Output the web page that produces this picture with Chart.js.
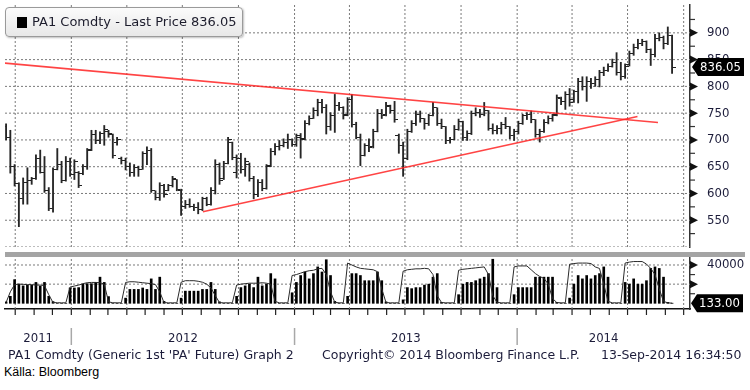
<!DOCTYPE html>
<html>
<head>
<meta charset="utf-8">
<script src="https://cdn.jsdelivr.net/npm/chart.js@4.4.1/dist/chart.umd.min.js"></script>
<style>
  html,body{margin:0;padding:0;background:#fff;}
  body{width:750px;height:390px;position:relative;overflow:hidden;}
  canvas{position:absolute;left:0;}
  #pricePanel{top:0;}
  #volumePanel{top:250px;}
  .sep{position:absolute;left:5px;top:252px;width:740px;height:5px;background:#a4a4a4;}
  .legend{position:absolute;left:5px;top:7px;width:236px;height:28px;border:1px solid #9a9a9a;border-radius:4px;background:linear-gradient(#fbfbfb,#e8e8e8);box-shadow:1px 1px 2px rgba(0,0,0,.25);font:13px 'DejaVu Sans',sans-serif;color:#1c1c2c;}
  .legend .sq{position:absolute;left:11px;top:9px;width:10px;height:11px;background:#000;}
  .legend .txt{position:absolute;left:26px;top:6px;white-space:nowrap;}
  .foot{position:absolute;top:347px;font:12.5px 'DejaVu Sans',sans-serif;color:#1c1c3a;white-space:nowrap;}
  .src{position:absolute;left:4px;top:365px;font:12.5px 'Liberation Sans',Arial,sans-serif;color:#000;}
</style>
</head>
<body>
<canvas id="pricePanel" width="750" height="252"></canvas>
<canvas id="volumePanel" width="750" height="100"></canvas>
<div class="sep"></div>
<div class="legend"><div class="sq"></div><div class="txt" id="legendText"></div></div>
<div class="foot" style="left:8px">PA1 Comdty (Generic 1st 'PA' Future) Graph 2</div>
<div class="foot" style="left:322px">Copyright© 2014 Bloomberg Finance L.P.</div>
<div class="foot" style="left:601px">13-Sep-2014 16:34:50</div>
<div class="src">Källa: Bloomberg</div>
<script>
// ---------------- DATA ----------------
const weekStart = '2011-09-16';   // date of the first weekly bar
const legendTitle = 'PA1 Comdty - Last Price';
const yearLabels = ['2011', '2012', '2013', '2014'];
const priceTickValues = [550, 600, 650, 700, 750, 800, 850, 900];
const volumeTickValues = [40000];

const highs = [
  730,718,654,620,629,648,630,672,681,669, 611,648,684,660,669,666,663,641,654,684,
  718,718,715,727,718,711,705,668,666,657, 654,651,678,687,684,605,620,617,617,632,
  626,608,587,590,580,583,593,593,611,663, 657,660,705,696,672,675,666,657,632,626,
  626,654,684,693,699,702,711,702,711,712, 736,745,760,776,776,766,751,785,770,762,
  779,785,733,711,693,702,720,757,757,770, 765,772,711,696,720,736,754,754,740,748,
  770,760,739,725,705,727,739,735,717,754, 760,757,770,755,730,727,733,742,725,720,
  735,748,751,754,738,720,738,745,748,784, 780,790,796,793,815,818,818,815,818,830,
  836,842,851,863,845,842,866,879,888,888, 885,870,897,900,894,911,896
];
const lows = [
  700,638,614,538,580,580,617,626,638,602, 568,565,644,620,623,632,626,611,635,645,
  680,693,693,690,705,666,690,655,644,632, 632,632,645,654,602,588,587,593,605,612,
  605,559,572,574,568,562,568,577,578,599, 617,626,655,663,629,638,632,623,590,594,
  605,608,650,672,681,687,684,688,688,666, 700,728,740,745,751,711,718,714,755,739,
  745,724,702,652,670,678,685,715,740,745, 750,733,675,632,663,714,727,733,720,727,
  745,727,721,693,694,700,718,699,699,710, 745,742,745,718,711,711,711,721,702,699,
  711,729,738,732,705,696,714,730,735,745, 766,757,763,770,769,793,772,796,800,799,
  820,828,836,821,812,815,838,858,870,876, 863,839,855,885,870,878,824
];
const opens = [
  725,705,650,618,590,620,625,628,665,640, 605,572,645,655,625,660,635,640,638,650,
  682,710,698,712,716,710,695,665,662,650, 640,648,645,675,680,605,592,615,606,615,
  626,605,575,580,576,574,570,590,580,605, 655,628,656,696,640,665,645,655,628,598,
  620,610,652,678,688,690,695,700,692,705, 702,730,740,755,770,760,725,745,765,760,
  748,775,728,705,670,690,688,715,750,748, 762,755,708,690,665,715,730,748,740,730,
  745,760,730,725,698,700,720,735,705,712, 750,752,748,755,722,718,722,728,725,708,
  715,730,745,748,738,710,715,732,740,748, 778,772,785,775,790,810,800,810,805,812,
  825,830,838,845,825,818,840,862,872,880, 884,868,860,890,892,880,895
];
const closes = [
  705,650,618,590,620,625,628,665,640,605, 572,645,655,625,660,635,660,615,650,680,
  710,698,712,720,712,670,700,662,650,640, 648,645,675,680,605,592,615,598,615,628,
  608,575,580,576,574,570,590,580,605,655, 625,656,700,668,665,645,660,628,598,620,
  610,650,678,688,690,695,700,692,708,700, 730,740,755,770,760,725,745,765,760,745,
  775,728,705,670,690,685,715,750,745,765, 755,738,690,665,715,730,748,740,730,745,
  760,730,725,698,700,720,735,705,712,750, 752,748,755,722,718,722,728,725,708,715,
  730,745,748,738,710,715,732,740,745,780, 772,785,770,790,810,800,810,805,812,825,
  830,838,845,825,818,838,862,872,880,884, 868,860,890,892,880,895,836.05
];
const volumes = [
  1500,7300,24700,20000,18200,19000,19000,21800,18000,21800, 7300,1800,0,0,0,16000,16000,16400,20000,20500,
  20500,21800,27300,21800,7000,0,0,0,5400,14500, 14500,14500,16000,14500,25500,14500,27300,2000,0,0,
  0,5400,12700,12700,12700,12700,14500,14500,21800,14500, 1500,0,0,0,7300,16400,18200,20000,16400,27300,
  18200,20000,31000,25500,0,0,0,11000,21800,29000, 32700,25500,31000,38000,32700,45500,29000,2000,0,0,
  7300,31000,31000,29000,23600,23600,23600,32700,23600,1500, 0,0,0,3600,16400,15300,16400,16400,19000,20000,
  27300,31000,1000,0,0,0,9000,20000,21800,21800, 23600,25500,27300,31000,46000,16400,0,0,0,9000,
  16400,16400,16400,16400,27300,27300,27300,27300,27300,1000, 0,0,5400,20000,29000,25500,29000,25500,29000,31000,
  38000,27300,0,0,0,21800,20000,25500,20000,20000, 23600,36400,38000,36400,27300,1000,133
];
const openInterest = [
  800,12000,19500,20000,19800,19500,19500,19000,19000,18500, 9000,800,600,500,500,17000,18000,19000,20500,21500,
  21800,21800,21500,20000,1500,600,500,500,21800,22500, 22500,22000,21500,21000,20500,19500,12000,700,500,500,
  500,22000,23600,23600,23600,23000,22000,20000,16000,8000, 700,500,500,500,19000,20000,20500,21000,21000,21000,
  21500,21000,20000,2000,500,500,500,29000,30000,31500, 33000,34000,34500,36000,36500,30000,12000,1000,500,500,
  42000,40000,38000,36500,36000,35500,35000,33000,15000,800, 500,500,500,33500,35000,35500,36000,36000,36500,36000,
  30000,8000,800,500,500,500,34500,35500,36000,36500, 37000,37500,38000,30000,8000,1000,500,500,500,38000,
  39000,39000,39000,35000,31000,28000,26000,20000,5000,800, 500,500,40800,41500,42000,42000,42000,41500,38000,36400,
  20000,2000,500,500,500,42000,43000,43600,43600,43600, 41000,36400,30000,15000,2000,500,133
];
// trend lines: [week index, price]
const upperTrend = [[-0.3, 843.5], [152.7, 732.4]];
const lowerTrend = [[46.1, 565.9], [147.9, 743.9]];

// ---------------- HELPERS ----------------
const DAY = 864e5;
const weekOf = d => (Date.parse(d + 'T00:00:00Z') - Date.parse(weekStart + 'T00:00:00Z')) / (7 * DAY);
const X_MIN = -0.25, X_MAX = 160.2;
const P_MIN = 500, P_MAX = 952, V_MIN = -5950, V_MAX = 47300;
const quarterWeeks = [], monthWeeks = [];
for (let y = 2011; y <= 2014; y++) {
  for (let m = 1; m <= 12; m++) {
    const w = weekOf(`${y}-${String(m).padStart(2, '0')}-01`);
    if (w < X_MIN || w > X_MAX) continue;
    monthWeeks.push(w);
    if ((m - 1) % 3 === 0) quarterWeeks.push(w);
  }
}
const yearMid = yearLabels.map(y => {
  const a = Math.max(X_MIN, weekOf(`${y}-01-01`));
  const b = Math.min(X_MAX, weekOf(`${+y + 1}-01-01`));
  return (a + b) / 2;
});
const yearBounds = yearLabels.slice(1).map(y => weekOf(`${y}-01-01`));

document.getElementById('legendText').textContent =
  `${legendTitle} ${closes[closes.length - 1].toFixed(2)}`;

const FONT = "'DejaVu Sans Condensed','DejaVu Sans',sans-serif";
const axisFont = { family: FONT, size: 13 };
const textColor = '#1c1c3a';
const gridGray = '#7a7a7a';

function tickImg(side) {
  const c = document.createElement('canvas');
  c.width = 7; c.height = 1;
  const g = c.getContext('2d');
  g.fillStyle = '#222222';
  g.fillRect(side < 0 ? 0 : 4, 0, 3, 1);
  return c;
}
const openTick = tickImg(-1), closeTick = tickImg(1);

// every decoration is a self-contained filled polygon (same recipe as the value tag)
function fillPoly(ctx, pts, color) {
  ctx.save();
  ctx.fillStyle = color;
  ctx.beginPath();
  ctx.moveTo(pts[0][0], pts[0][1]);
  for (let i = 1; i < pts.length; i++) ctx.lineTo(pts[i][0], pts[i][1]);
  ctx.closePath();
  ctx.fill();
  ctx.restore();
}
const rectPts = (x, y, w, h) => [[x, y], [x + w, y], [x + w, y + h], [x, y + h]];
function drawTag(ctx, x, y, text) {
  fillPoly(ctx, [[x, y], [x + 6, y - 9], [x + 52, y - 9], [x + 52, y + 9], [x + 6, y + 9]], '#000000');
  ctx.save();
  ctx.fillStyle = '#ffffff';
  ctx.font = `13px ${FONT}`;
  ctx.textBaseline = 'middle';
  ctx.textAlign = 'left';
  ctx.fillText(text, x + 8, y + 0.5);
  ctx.restore();
}
const drawArrow = (ctx, x, y) => fillPoly(ctx, [[x, y - 4], [x + 8, y], [x, y + 4]], '#111111');
const minorTick = (ctx, x, y) => fillPoly(ctx, rectPts(x, y - 0.6, 5, 1.2), '#333333');

// dotted grid lines as Chart.js line datasets (vertical at quarter starts, horizontal at ticks)
function gridSets(yValues, yMin, yMax) {
  const base = { type: 'line', borderColor: gridGray, borderWidth: 1, borderDash: [2, 2],
                 pointRadius: 0, order: 9, tension: 0 };
  const sets = quarterWeeks.map(w => Object.assign({ data: [{ x: w, y: yMin }, { x: w, y: yMax }] }, base));
  yValues.forEach(v => sets.push(Object.assign({ data: [{ x: X_MIN, y: v }, { x: X_MAX, y: v }] }, base)));
  return sets;
}

const pricePlugin = {
  id: 'priceDecor',
  afterDraw(chart) {
    const ys = chart.scales.y, ctx = chart.ctx, x0 = chart.chartArea.right;
    for (let v = 525; v <= 950; v += 50) minorTick(ctx, x0, ys.getPixelForValue(v));
    priceTickValues.forEach(v => drawArrow(ctx, x0, ys.getPixelForValue(v)));
    const last = closes[closes.length - 1];
    drawTag(ctx, x0 + 2, ys.getPixelForValue(last), last.toFixed(2));
  }
};
const volumePlugin = {
  id: 'volumeDecor',
  afterDraw(chart) {
    const ys = chart.scales.y, xs = chart.scales.x, ctx = chart.ctx, ca = chart.chartArea;
    [10000, 30000].forEach(v => minorTick(ctx, ca.right, ys.getPixelForValue(v)));
    [20000, 40000].forEach(v => drawArrow(ctx, ca.right, ys.getPixelForValue(v)));
    monthWeeks.forEach(w => {
      const x = xs.getPixelForValue(w);
      fillPoly(ctx, rectPts(x - 0.6, ca.bottom, 1.2, 6), '#222222');
    });
    yearBounds.forEach(w => {
      const x = xs.getPixelForValue(w);
      fillPoly(ctx, rectPts(x - 0.75, ca.bottom + 19, 1.5, 17), '#a8a8a8');
    });
    const last = openInterest[openInterest.length - 1];
    drawTag(ctx, ca.right + 1, ys.getPixelForValue(last), last.toFixed(2));
  }
};

const xyz = arr => arr.map((v, i) => ({ x: i, y: v }));
const trendDs = pts => ({
  type: 'line', data: pts.map(p => ({ x: p[0], y: p[1] })),
  borderColor: 'rgba(255,35,35,0.85)', borderWidth: 1.6, pointRadius: 0, order: 0
});
const noPad = s => { s.paddingTop = 0; s.paddingBottom = 0; s.width = 60; };

// ---------------- PRICE PANEL ----------------
new Chart(document.getElementById('pricePanel'), {
  type: 'bar',
  data: {
    datasets: [
      trendDs(upperTrend),
      trendDs(lowerTrend),
      { type: 'line', data: xyz(opens), showLine: false, pointStyle: openTick, pointRadius: 2, order: 1 },
      { type: 'line', data: xyz(closes), showLine: false, pointStyle: closeTick, pointRadius: 2, order: 1 },
      { type: 'bar', data: highs.map((h, i) => ({ x: i, y: [lows[i], h] })),
        backgroundColor: '#262626', barThickness: 1.2, grouped: false, order: 2 }
    ].concat(gridSets([P_MIN].concat(priceTickValues), P_MIN, P_MAX))
  },
  options: {
    responsive: false, animation: false, events: [],
    layout: { padding: { left: 5, top: 4, right: 0, bottom: 1 } },
    plugins: { legend: { display: false }, tooltip: { enabled: false } },
    scales: {
      x: {
        type: 'linear', min: X_MIN, max: X_MAX, offset: false,
        afterBuildTicks: s => { s.ticks = quarterWeeks.map(v => ({ value: v })); },
        afterFit: s => { s.height = 0; s.paddingLeft = 0; s.paddingRight = 0; },
        ticks: { display: false },
        grid: { display: false, offset: false },
        border: { display: false }
      },
      y: {
        position: 'right', min: P_MIN, max: P_MAX,
        afterBuildTicks: s => { s.ticks = priceTickValues.map(v => ({ value: v })); },
        afterFit: noPad,
        ticks: {
          autoSkip: false, color: textColor, font: axisFont, padding: 9,
          callback: v => priceTickValues.includes(v) ? String(v) : ''
        },
        grid: { display: false },
        border: { display: true, color: '#333333', width: 1.5 }
      }
    }
  },
  plugins: [pricePlugin]
});

// ---------------- VOLUME PANEL ----------------
new Chart(document.getElementById('volumePanel'), {
  type: 'bar',
  data: {
    datasets: [
      { type: 'line', data: xyz(openInterest), borderColor: '#2a2a2a', borderWidth: 1,
        pointRadius: 0, order: 0, xAxisID: 'x', yAxisID: 'y' },
      { type: 'bar', data: xyz(volumes), backgroundColor: '#000000', barThickness: 2,
        grouped: false, order: 1, xAxisID: 'x', yAxisID: 'y' }
    ].concat(gridSets([20000, 40000], V_MIN, V_MAX))
  },
  options: {
    responsive: false, animation: false, events: [],
    layout: { padding: { left: 5, top: 8, right: 0, bottom: 0 } },
    plugins: { legend: { display: false }, tooltip: { enabled: false } },
    scales: {
      x: {
        type: 'linear', position: 'bottom', weight: 0, min: X_MIN, max: X_MAX, offset: false,
        afterBuildTicks: s => { s.ticks = monthWeeks.map(v => ({ value: v })); },
        afterFit: s => { s.height = 6; s.paddingLeft = 0; s.paddingRight = 0; },
        ticks: { display: false },
        grid: { display: false, offset: false },
        border: { display: true, color: '#111111', width: 1.5 }
      },
      xYear: {
        type: 'linear', position: 'bottom', weight: 1, min: X_MIN, max: X_MAX, offset: false,
        afterBuildTicks: s => { s.ticks = yearMid.map(v => ({ value: v })); },
        afterFit: s => { s.height = 35; s.paddingLeft = 0; s.paddingRight = 0; },
        ticks: { autoSkip: false, maxRotation: 0, color: textColor, font: axisFont, padding: 16,
                 callback: (v, i) => yearLabels[i] },
        grid: { display: false, drawTicks: false },
        border: { display: false }
      },
      y: {
        position: 'right', min: V_MIN, max: V_MAX,
        afterBuildTicks: s => { s.ticks = volumeTickValues.map(v => ({ value: v })); },
        afterFit: noPad,
        ticks: {
          autoSkip: false, color: textColor, font: axisFont, padding: 9,
          callback: v => volumeTickValues.includes(v) ? String(v) : ''
        },
        grid: { display: false },
        border: { display: true, color: '#333333', width: 1.5 }
      }
    }
  },
  plugins: [volumePlugin]
});
</script>
</body>
</html>
